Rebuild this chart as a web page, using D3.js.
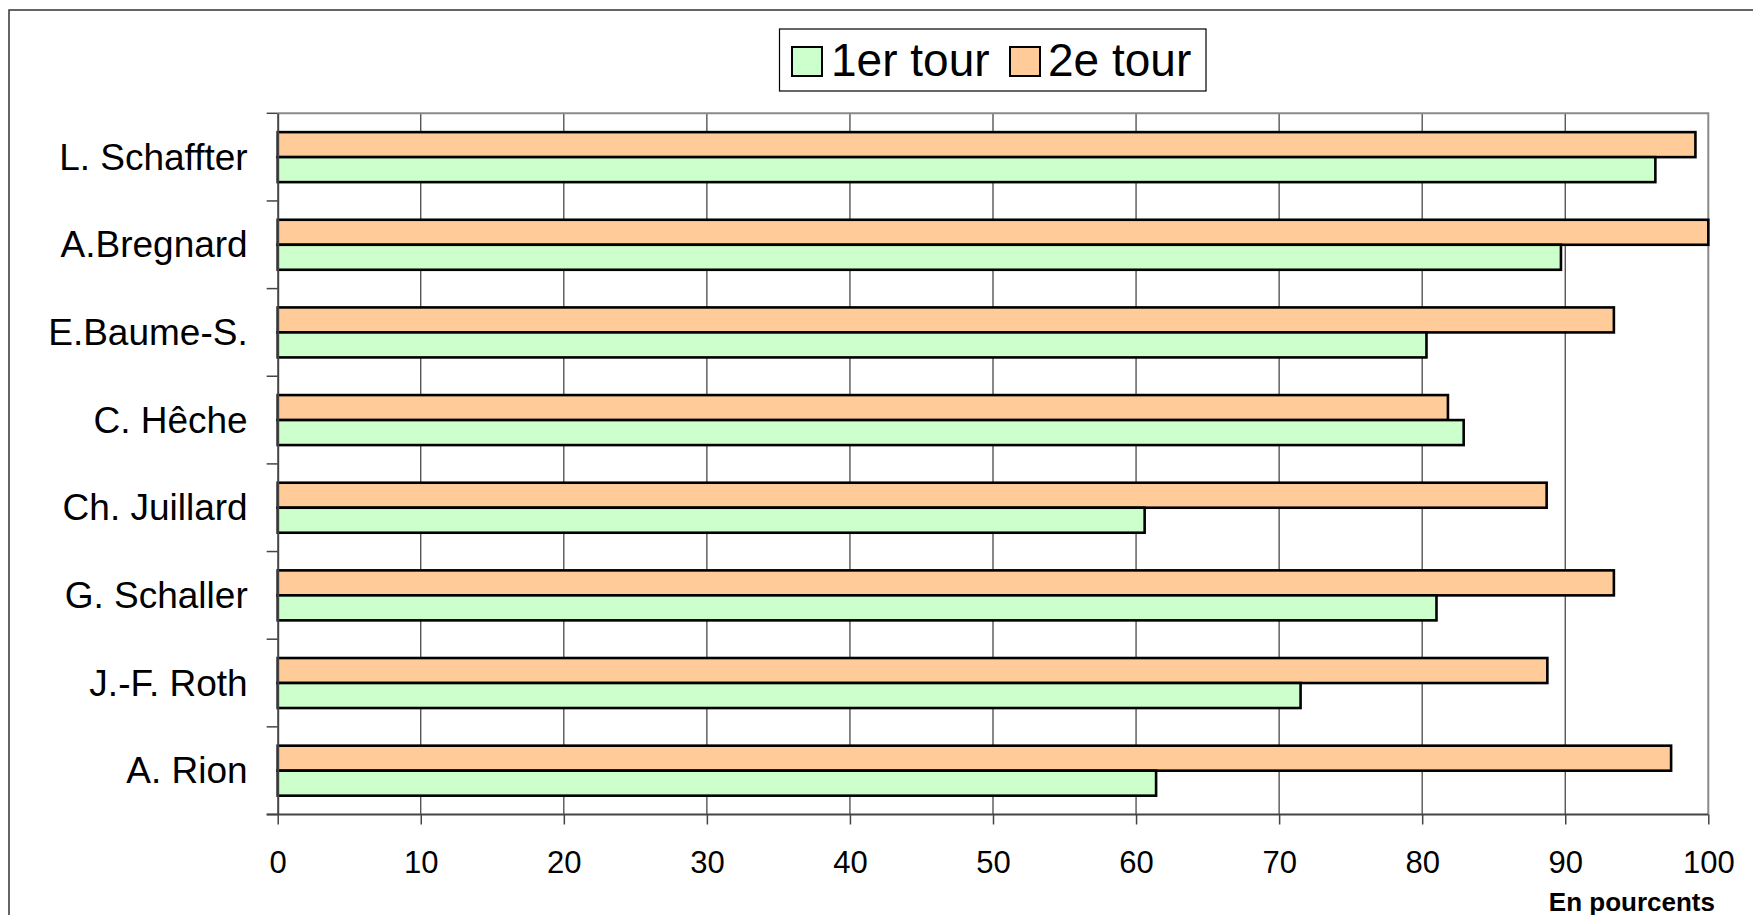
<!DOCTYPE html>
<html>
<head>
<meta charset="utf-8">
<script src="https://cdn.jsdelivr.net/npm/d3@7"></script>
<style>
  html, body { margin: 0; padding: 0; background: #fff; }
  svg { display: block; font-family: "Liberation Sans", Arial, sans-serif; }
</style>
</head>
<body>
<svg id="chart" width="1753" height="915"></svg>
<script>
const categories = ["L. Schaffter", "A.Bregnard", "E.Baume-S.", "C. Hêche", "Ch. Juillard", "G. Schaller", "J.-F. Roth", "A. Rion"];
const tour1 = [96.3, 89.7, 80.3, 82.9, 60.6, 81.0, 71.5, 61.4];
const tour2 = [99.1, 100, 93.4, 81.8, 88.7, 93.4, 88.75, 97.4];
const seriesNames = ["1er tour", "2e tour"];
const seriesColors = ["#CCFFCC", "#FFCC99"];
const xTicks = [0, 10, 20, 30, 40, 50, 60, 70, 80, 90, 100];
const unitLabel = "En pourcents";

const svg = d3.select("#chart");
const L = 277.7, R = 1708.3, T = 113.3, B = 814.5;

const x = d3.scaleLinear().domain([0, 100]).range([L, R]);
const y = d3.scaleBand().domain(categories).range([T, B]).padding(0);
// within a category: 2e tour on top, 1er tour below
const ySub = d3.scaleBand().domain(["2e tour", "1er tour"]).range([0, y.bandwidth()]).paddingInner(0).paddingOuter(0.753);

// outer frame
svg.append("rect").attr("x", 9).attr("y", 10).attr("width", 1800).attr("height", 1000)
  .attr("fill", "none").attr("stroke", "#333").attr("stroke-width", 1.5);

// gridlines
svg.append("g").selectAll("line").data(xTicks.filter(d => d > 0 && d < 100)).join("line")
  .attr("x1", d => x(d)).attr("x2", d => x(d)).attr("y1", T).attr("y2", B)
  .attr("stroke", "#3a3a3a").attr("stroke-width", 1.2);

// plot border top/right (gray)
svg.append("path").attr("d", `M${L},${T}H${R}V${B}`).attr("fill", "none")
  .attr("stroke", "#8a8a8a").attr("stroke-width", 2);

// bars
const rows = categories.map((c, i) => ({ cat: c, v1: tour1[i], v2: tour2[i] }));
const g = svg.append("g");
rows.forEach(r => {
  [["2e tour", r.v2, seriesColors[1]], ["1er tour", r.v1, seriesColors[0]]].forEach(([s, v, col]) => {
    g.append("rect")
      .attr("x", x(0)).attr("y", y(r.cat) + ySub(s))
      .attr("width", x(v) - x(0)).attr("height", ySub.bandwidth())
      .attr("fill", col).attr("stroke", "#000").attr("stroke-width", 2.6);
  });
});

// x axis
const xAxis = svg.append("g").attr("transform", `translate(0,${B})`)
  .call(d3.axisBottom(x).tickValues(xTicks).tickSize(10).tickPadding(26).tickFormat(d3.format("d")));
xAxis.select(".domain").attr("d", `M${L - 11},0H${R}`).attr("stroke", "#444").attr("stroke-width", 2);
xAxis.selectAll(".tick line").attr("stroke", "#444").attr("stroke-width", 1.5);
xAxis.selectAll(".tick text").attr("font-size", 31).attr("fill", "#000")
  .attr("font-family", "'Liberation Sans', Arial, sans-serif");

// y axis
const yAxis = svg.append("g").attr("transform", `translate(${L},0)`)
  .call(d3.axisLeft(y).tickSize(0).tickPadding(30));
yAxis.select(".domain").attr("stroke", "#444").attr("stroke-width", 2);
yAxis.selectAll(".tick text").attr("font-size", 37).attr("fill", "#000").attr("dy", "0.34em")
  .attr("font-family", "'Liberation Sans', Arial, sans-serif");
// category boundary ticks
const bounds = categories.map(c => y(c)).concat([y(categories[categories.length - 1]) + y.bandwidth()]);
svg.append("g").selectAll("line").data(bounds).join("line")
  .attr("x1", L - 11).attr("x2", L).attr("y1", d => d).attr("y2", d => d)
  .attr("stroke", "#444").attr("stroke-width", 1.5);

// unit label
svg.append("text").attr("x", 1715).attr("y", 910.5).attr("text-anchor", "end")
  .attr("font-size", 26).attr("font-weight", "bold").text(unitLabel);

// legend
const lg = svg.append("g");
lg.append("rect").attr("x", 779.5).attr("y", 29).attr("width", 426.5).attr("height", 62)
  .attr("fill", "#fff").attr("stroke", "#000").attr("stroke-width", 1.2);
const legendItems = [
  { name: seriesNames[0], color: seriesColors[0], sx: 792, tx: 831 },
  { name: seriesNames[1], color: seriesColors[1], sx: 1010, tx: 1048 }
];
legendItems.forEach(it => {
  lg.append("rect").attr("x", it.sx).attr("y", 47).attr("width", 30).attr("height", 29)
    .attr("fill", it.color).attr("stroke", "#000").attr("stroke-width", 2);
  lg.append("text").attr("x", it.tx).attr("y", 76).attr("font-size", 46).attr("fill", "#000").text(it.name);
});
</script>
</body>
</html>
